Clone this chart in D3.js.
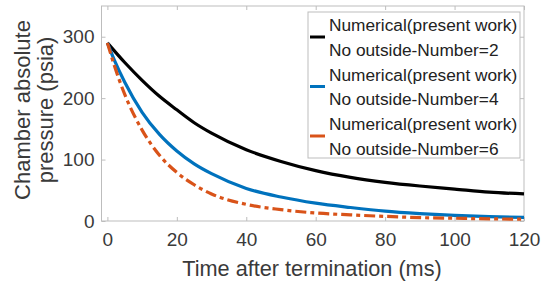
<!DOCTYPE html>
<html>
<head>
<meta charset="utf-8">
<script src="https://cdn.jsdelivr.net/npm/d3@7"></script>
<style>
  body { margin: 0; background: #fff; }
  text { font-family: "Liberation Sans", Arial, sans-serif; }
</style>
</head>
<body>
<script>
// values: [time (ms), pressure (psia)]
const number2 = [[0,290],[5,258],[10,229],[15,203],[20,181],[25,160],[30,143],[40,116],[50,97],[60,82],[70,71],[80,63],[90,57],[100,52],[110,47],[120,44]];
const number4 = [[0,290],[2,262],[5,226],[10,177],[15,141],[20,114],[25,93],[30,77],[40,53],[50,39],[60,29],[70,22],[80,16],[90,12],[100,9],[110,7],[120,6]];
const number6 = [[0,290],[2,253],[5,206],[10,148],[15,107],[20,79],[25,59],[30,44],[40,27],[50,18.5],[60,13],[70,10],[80,7.5],[90,5.5],[100,4.5],[110,3.5],[120,3]];

const xTicks = [0, 20, 40, 60, 80, 100, 120];
const yTicks = [0, 100, 200, 300];
const legendLabels = [
  ['Numerical(present work)', 'No outside-Number=2'],
  ['Numerical(present work)', 'No outside-Number=4'],
  ['Numerical(present work)', 'No outside-Number=6']
];

const series = [
  { data: number2, color: '#000000', dash: null },
  { data: number4, color: '#0072BD', dash: null },
  { data: number6, color: '#D95319', dash: '11,4,4,4' }
];

const W = 544, H = 282;
const mLeft = 101.5, mRight = 524, mTop = 6, mBottom = 221;

const svg = d3.select('body').append('svg')
  .attr('width', W)
  .attr('height', H);

const x = d3.scaleLinear().domain([-1.7, 120]).range([mLeft, mRight]);
const y = d3.scaleLinear().domain([0, 350]).range([mBottom, mTop]);

const axisColor = '#bdbdbd';
const labelColor = '#3a3a3a';

// box
svg.append('rect')
  .attr('x', mLeft).attr('y', mTop)
  .attr('width', mRight - mLeft).attr('height', mBottom - mTop)
  .attr('fill', 'none').attr('stroke', axisColor).attr('stroke-width', 1);

// axes with inward ticks on all four sides
const gx = svg.append('g').attr('transform', `translate(0,${mBottom})`)
  .call(d3.axisBottom(x).tickValues(xTicks).tickSizeInner(-4).tickSizeOuter(0).tickPadding(12));
const gxTop = svg.append('g').attr('transform', `translate(0,${mTop})`)
  .call(d3.axisTop(x).tickValues(xTicks).tickSizeInner(-4).tickSizeOuter(0).tickFormat(''));
const gy = svg.append('g').attr('transform', `translate(${mLeft},0)`)
  .call(d3.axisLeft(y).tickValues(yTicks).tickSizeInner(-4).tickSizeOuter(0).tickPadding(7));
const gyRight = svg.append('g').attr('transform', `translate(${mRight},0)`)
  .call(d3.axisRight(y).tickValues(yTicks).tickSizeInner(-4).tickSizeOuter(0).tickFormat(''));

[gx, gxTop, gy, gyRight].forEach(g => {
  g.select('.domain').remove();
  g.selectAll('line').attr('stroke', axisColor);
  g.selectAll('text')
    .style('font-family', '"Liberation Sans", Arial, sans-serif')
    .style('font-size', '19px')
    .attr('fill', labelColor);
});

// curves
const line = d3.line()
  .x(d => x(d[0]))
  .y(d => y(d[1]))
  .curve(d3.curveMonotoneX);

series.forEach(s => {
  svg.append('path')
    .datum(s.data)
    .attr('d', line)
    .attr('fill', 'none')
    .attr('stroke', s.color)
    .attr('stroke-width', 3.2)
    .attr('stroke-dasharray', s.dash);
});

// legend
const lg = svg.append('g');
lg.append('rect')
  .attr('x', 308).attr('y', 12)
  .attr('width', 212).attr('height', 146)
  .attr('fill', '#fff').attr('stroke', axisColor);

legendLabels.forEach((pair, i) => {
  const y0 = 31 + i * 49.5;
  lg.append('line')
    .attr('x1', 310).attr('x2', 325)
    .attr('y1', y0 + 6).attr('y2', y0 + 6)
    .attr('stroke', series[i].color)
    .attr('stroke-width', 3);
  pair.forEach((t, j) => {
    lg.append('text')
      .attr('x', 329)
      .attr('y', y0 + j * 24.7)
      .attr('font-size', 17.3)
      .attr('fill', '#222')
      .text(t);
  });
});

// axis titles
svg.append('text')
  .attr('x', 312)
  .attr('y', 276)
  .attr('text-anchor', 'middle')
  .attr('font-size', 21.7)
  .attr('fill', labelColor)
  .text('Time after termination (ms)');

const yl = svg.append('text')
  .attr('transform', 'translate(30,110) rotate(-90)')
  .attr('text-anchor', 'middle')
  .attr('font-size', 22)
  .attr('fill', labelColor);
yl.append('tspan').attr('x', 0).attr('dy', 0).text('Chamber absolute');
yl.append('tspan').attr('x', 0).attr('dy', 23).text('pressure (psia)');
</script>
</body>
</html>
